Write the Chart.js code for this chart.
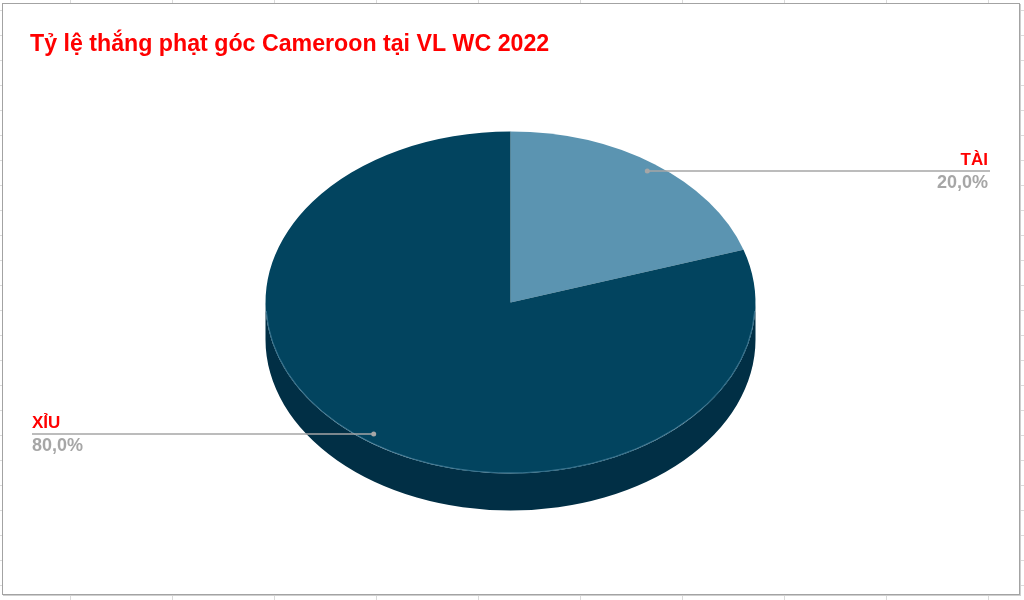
<!DOCTYPE html>
<html>
<head>
<meta charset="utf-8">
<title>Tỷ lệ thắng phạt góc Cameroon</title>
<script src="https://cdn.jsdelivr.net/npm/chart.js@4.4.0/dist/chart.umd.min.js"></script>
<style>
  html, body { margin: 0; padding: 0; width: 1024px; height: 600px; overflow: hidden; }
  body {
    background-color: #fff;
    background-image:
      linear-gradient(to right, #dadada 1px, transparent 1px),
      linear-gradient(to bottom, #dadada 1px, transparent 1px);
    background-size: 102px 25px, 102px 25px;
    background-position: 70px 0, 0 10px;
  }
  #frame {
    position: absolute; left: 2px; top: 3px; width: 1016px; height: 590px;
    background: #fff; border: 1px solid #a3a3a3; box-shadow: 1px 1px 0 #cfcfcf;
  }
  #c { position: absolute; left: 0; top: 0; }
</style>
</head>
<body>
<div id="frame"></div>
<canvas id="c" width="1024" height="600"></canvas>
<script>
const title = "Tỷ lệ thắng phạt góc Cameroon tại VL WC 2022"
const labels = ["TÀI", "XỈU"]
const values = [20, 80]
const valueText = ["20,0%", "80,0%"]

const colors = ["#5b94b1", "#02445f"]
const sideColors = ["#3d6f88", "#012f45"]

// ellipse look: vertical squash and thickness of the disc
const tilt = 171 / 245
const depth = 37

const pie3d = {
  id: "pie3d",
  beforeDatasetsDraw(chart) {
    const ctx = chart.ctx
    const arcs = chart.getDatasetMeta(0).data
    const a0 = arcs[0]
    const cx = a0.x, cy = a0.y, r = a0.outerRadius
    const ry = r * tilt
    // side wall, only the front half (angles 0..PI) is visible
    arcs.forEach((arc, i) => {
      let s = arc.startAngle, e = arc.endAngle
      while (s < 0) { s += Math.PI * 2; e += Math.PI * 2 }
      const parts = [[s, e], [s - Math.PI * 2, e - Math.PI * 2]]
      parts.forEach(p => {
        const from = Math.max(p[0], 0), to = Math.min(p[1], Math.PI)
        if (to <= from) return
        ctx.beginPath()
        ctx.ellipse(cx, cy, r, ry, 0, from, to)
        ctx.ellipse(cx, cy + depth, r, ry, 0, to, from, true)
        ctx.closePath()
        ctx.fillStyle = sideColors[i]
        ctx.fill()
      })
    })
    ctx.save()
    ctx.translate(cx, cy)
    ctx.scale(1, tilt)
    ctx.translate(-cx, -cy)
  },
  afterDatasetsDraw(chart) {
    const ctx = chart.ctx
    ctx.restore()
    const a0 = chart.getDatasetMeta(0).data[0]
    // faint highlight on the front rim of the top face
    ctx.beginPath()
    ctx.ellipse(a0.x, a0.y, a0.outerRadius - 0.5, a0.outerRadius * tilt - 0.5, 0, 0.05, Math.PI - 0.05)
    ctx.strokeStyle = "rgba(120,170,200,0.45)"
    ctx.lineWidth = 1
    ctx.stroke()
  },
  afterDraw(chart) {
    const ctx = chart.ctx
    ctx.save()
    ctx.fillStyle = "#ff0000"
    ctx.font = "bold 23.2px 'Liberation Sans', Arial, sans-serif"
    ctx.textAlign = "left"
    ctx.textBaseline = "alphabetic"
    ctx.fillText(title, 30, 51)

    chart.getDatasetMeta(0).data.forEach((arc, i) => {
      const mid = (arc.startAngle + arc.endAngle) / 2
      const px = arc.x + Math.cos(mid) * arc.outerRadius * 0.95
      const py = arc.y + Math.sin(mid) * arc.outerRadius * 0.95 * tilt
      const right = Math.cos(mid) >= 0
      const endX = right ? 990 : 32
      ctx.strokeStyle = "#a6a6a6"
      ctx.lineWidth = 1.5
      ctx.beginPath()
      ctx.moveTo(px, py)
      ctx.lineTo(endX, py)
      ctx.stroke()
      ctx.fillStyle = "#a6a6a6"
      ctx.beginPath()
      ctx.arc(px, py, 2.5, 0, Math.PI * 2)
      ctx.fill()

      ctx.textAlign = right ? "right" : "left"
      const tx = right ? endX - 2 : endX
      ctx.fillStyle = "#ff0000"
      ctx.font = "bold 17px 'Liberation Sans', Arial, sans-serif"
      ctx.fillText(labels[i], tx, py - 6)
      ctx.fillStyle = "#a6a6a6"
      ctx.font = "bold 18px 'Liberation Sans', Arial, sans-serif"
      ctx.fillText(valueText[i], tx, py + 17)
    })
    ctx.restore()
  }
}

new Chart(document.getElementById("c"), {
  type: "pie",
  data: {
    labels: labels,
    datasets: [{
      data: values,
      backgroundColor: colors,
      borderWidth: 0,
      radius: 245
    }]
  },
  options: {
    responsive: false,
    animation: false,
    events: [],
    layout: { padding: { left: 263, right: 266, top: 55, bottom: 50 } },
    plugins: { legend: { display: false }, tooltip: { enabled: false }, title: { display: false } }
  },
  plugins: [pie3d]
})
</script>
</body>
</html>
